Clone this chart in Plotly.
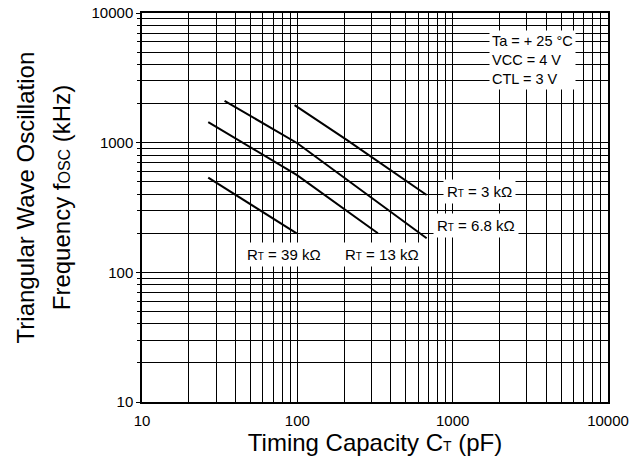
import plotly.graph_objects as go

# ---- data ----
ct_3k = [96, 208, 680]
f_3k = [1950, 1050, 395]

ct_6k8 = [34, 81, 100, 680]
f_6k8 = [2100, 1150, 990, 183]

ct_13k = [26.7, 99, 330]
f_13k = [1440, 564, 200]

ct_39k = [26.7, 99]
f_39k = [537, 200]

major_ticks = [10, 100, 1000, 10000]
major_labels = ["10", "100", "1000", "10000"]
minor_ticks = [m * 10 ** e for e in (1, 2, 3) for m in range(2, 10)]

y_title_lines = ["Triangular Wave Oscillation",
                 "Frequency f<span style='font-size:16px'>OSC</span> (kHz)"]

FONT = "Liberation Sans, Arial, Helvetica, sans-serif"
SUB = "<span style='font-size:10px'>T</span>"

fig = go.Figure()
for xs, ys in [(ct_3k, f_3k), (ct_6k8, f_6k8), (ct_13k, f_13k), (ct_39k, f_39k)]:
    fig.add_trace(go.Scatter(x=xs, y=ys, mode="lines",
                             line=dict(color="black", width=2),
                             showlegend=False, hoverinfo="skip"))

axis_common = dict(
    type="log",
    tickmode="array",
    tickvals=major_ticks,
    ticktext=major_labels,
    showgrid=True, gridcolor="black", gridwidth=1,
    showline=True, linecolor="black", linewidth=1.5, mirror=True,
    zeroline=False,
    automargin=False,
    ticklabeloverflow="allow",
    tickfont=dict(family=FONT, size=15, color="black"),
)

fig.update_xaxes(
    **axis_common,
    range=[1, 4],
    ticks="",
    ticklabelstandoff=4,
    minor=dict(tickmode="array", tickvals=minor_ticks, showgrid=True,
               gridcolor="black", gridwidth=1, ticks=""),
    title=dict(text="Timing Capacity C<span style='font-size:14px'>T</span> (pF)",
               font=dict(family=FONT, size=24, color="black"), standoff=0),
)
fig.update_yaxes(
    **axis_common,
    range=[1, 4],
    ticks="outside", ticklen=4, tickcolor="black",
    minor=dict(tickmode="array", tickvals=minor_ticks, showgrid=True,
               gridcolor="black", gridwidth=1, ticks="outside", ticklen=3,
               tickcolor="black"),
)

# y-axis title as two rotated lines
for txt, px in zip(y_title_lines, [-0.251, -0.172]):
    fig.add_annotation(x=px, y=0.526, xref="paper", yref="paper", text=txt,
                       textangle=-90, showarrow=False,
                       font=dict(family=FONT, size=24, color="black"),
                       xanchor="center", yanchor="middle")

label_font = dict(family=FONT, size=15, color="black")
labels = [
    ("R" + SUB + " = 3 kΩ", 3.170, 2.620),
    ("R" + SUB + " = 6.8 kΩ", 3.151, 2.358),
    ("R" + SUB + " = 39 kΩ", 1.914, 2.134),
    ("R" + SUB + " = 13 kΩ", 2.543, 2.134),
]
for txt, lx, ly in labels:
    fig.add_annotation(x=lx, y=ly, xref="x", yref="y", text=txt,
                       showarrow=False, font=label_font,
                       bgcolor="white", borderpad=3,
                       xanchor="center", yanchor="middle")

fig.add_annotation(x=3.235, y=3.638, xref="x", yref="y",
                   text="Ta = + 25 °C<br>VCC = 4 V<br>CTL = 3 V",
                   showarrow=False, align="left",
                   font=dict(family=FONT, size=14.5, color="black"),
                   bgcolor="white", borderpad=2,
                   xanchor="left", yanchor="middle")

# the page body adds an 8px offset, so the figure is 8px smaller
fig.update_layout(
    width=631, height=453,
    margin=dict(l=134, r=31, t=5, b=59, autoexpand=False),
    paper_bgcolor="white", plot_bgcolor="white",
    font=dict(family=FONT, color="black"),
)

fig.write_html("out.html")
